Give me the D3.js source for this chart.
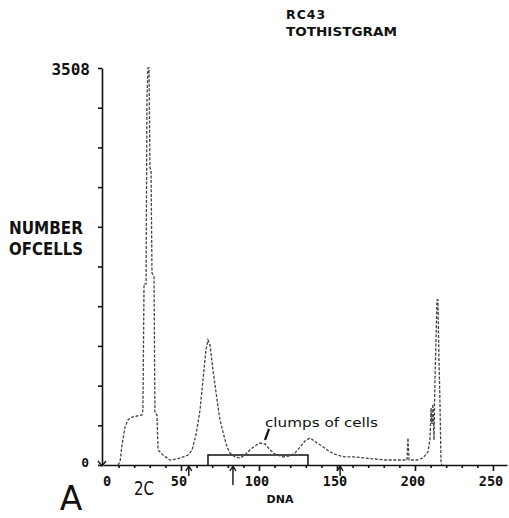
<!DOCTYPE html>
<html>
<head>
<meta charset="utf-8">
<style>
body { margin: 0; background: #fff; }
text { font-family: "DejaVu Sans", sans-serif; fill: #111; }
.mono { font-family: "DejaVu Sans Mono", monospace; font-weight: bold; }
</style>
</head>
<body>
<script src="https://cdn.jsdelivr.net/npm/d3@7"></script>
<script>
// histogram: DNA channel, number of cells
var dna = [9.6, 10.9, 12.2, 14.1, 16.0, 18.6, 21.8, 25.0, 25.6, 26.3, 27.6, 28.2, 28.8, 29.5, 30.1, 30.8,
  31.4, 32.7, 33.3, 34.6, 35.3, 38.5, 42.9, 47.4, 51.3, 54.5, 57.1, 59.6, 62.2, 64.1, 66.0, 67.3,
  68.6, 70.5, 73.1, 75.0, 76.9, 79.5, 81.4, 84.6, 87.8, 91.0, 94.2, 97.4, 100.6, 103.8, 107.1, 110.3,
  115.4, 119.9, 123.1, 126.3, 129.5, 132.7, 134.6, 137.2, 140.4, 145.5, 150.0, 155.1, 161.5, 167.9,
  174.4, 180.8, 187.2, 193.6, 194.9, 195.5, 196.2, 201.3, 205.1, 208.3, 209.6, 210.3, 210.9, 211.5,
  212.2, 212.8, 213.5, 214.1, 214.7, 215.4, 216.0, 216.7, 217.3];
var cells = [0, 27, 177, 336, 398, 424, 433, 442, 486, 1600, 1600, 3253, 3508, 3508, 2625, 2608,
  1697, 1662, 460, 442, 133, 88, 44, 53, 71, 88, 133, 265, 486, 751, 1017, 1105,
  1061, 840, 575, 398, 292, 159, 106, 71, 62, 88, 133, 168, 194, 186, 133, 97,
  71, 80, 106, 159, 212, 239, 221, 194, 168, 115, 88, 71, 71, 62,
  53, 44, 44, 44, 44, 239, 44, 44, 62, 115, 221, 504, 362, 539,
  221, 751, 1105, 1459, 1459, 928, 575, 18, 0];

var xTicks = [0, 50, 100, 150, 200, 250];
var yMax = 3508;
var gate = [67.3, 131.4];     // box drawn under the clumps
var gateCells = 88;
var arrowsAt = [55, 83.3, 152]; // small arrows under the axis

var W = 509, H = 518;
var svg = d3.select("body").append("svg").attr("width", W).attr("height", H);

var x = d3.scaleLinear().domain([0, 259]).range([103, 507]);
var y = d3.scaleLinear().domain([0, yMax]).range([465, 68]);

// title
svg.append("text").attr("x", 286).attr("y", 19).attr("font-size", 12.5).attr("letter-spacing", 1)
  .style("font-weight", "bold").text("RC43");
svg.append("text").attr("x", 286).attr("y", 36).attr("font-size", 12.5)
  .attr("textLength", 111).attr("lengthAdjust", "spacingAndGlyphs")
  .style("font-weight", "bold").text("TOTHISTGRAM");

// y axis
var yAxis = d3.axisLeft(y).tickValues(d3.range(0, 11).map(function(i){ return i * yMax / 10; }))
  .tickSize(4).tickSizeOuter(0).tickFormat("");
var gy = svg.append("g").attr("transform", "translate(102,0)").call(yAxis);
gy.selectAll("path, line").attr("stroke", "#111").attr("stroke-width", 1.6);
svg.append("text").attr("class", "mono").attr("x", 90).attr("y", y(yMax) + 7)
  .attr("text-anchor", "end").attr("font-size", 16).text("3508");
svg.append("text").attr("class", "mono").attr("x", 89).attr("y", y(0) + 2)
  .attr("text-anchor", "end").attr("font-size", 13).text("0");
// little arrow at the foot of the y axis
svg.append("path").attr("d", "M98," + (y(0) - 4) + "L102," + (y(0) + 1) + "L106," + (y(0) - 4))
  .attr("fill", "none").attr("stroke", "#111").attr("stroke-width", 1.4);

svg.append("text").attr("x", 9).attr("y", 234).attr("font-size", 18)
  .attr("textLength", 74).attr("lengthAdjust", "spacingAndGlyphs")
  .style("font-weight", "bold").text("NUMBER");
svg.append("text").attr("x", 9).attr("y", 255).attr("font-size", 18)
  .attr("textLength", 74).attr("lengthAdjust", "spacingAndGlyphs")
  .style("font-weight", "bold").text("OFCELLS");

// x axis: minor ticks every 10, long ticks every 50
var xAxis = d3.axisBottom(x).tickValues(d3.range(10, 251, 10)).tickSize(3).tickSizeOuter(0).tickFormat("");
var gx = svg.append("g").attr("transform", "translate(0," + y(0) + ")").call(xAxis);
gx.selectAll("path, line").attr("stroke", "#111").attr("stroke-width", 1.6);
gx.selectAll(".tick").filter(function(d){ return d % 50 === 0; }).select("line").attr("y2", 6);

svg.selectAll(".xlab").data(xTicks).enter().append("text")
  .attr("class", "mono xlab")
  .attr("x", function(d){ return d === 0 ? x(d) + 4 : x(d) - 2; })
  .attr("y", 486).attr("text-anchor", "middle").attr("font-size", 13.5)
  .text(function(d){ return d; });

svg.append("text").attr("x", 280).attr("y", 503).attr("text-anchor", "middle")
  .attr("font-size", 11).style("font-weight", "bold").text("DNA");
svg.append("text").attr("x", 144).attr("y", 495).attr("text-anchor", "middle")
  .attr("font-size", 19).attr("textLength", 20).attr("lengthAdjust", "spacingAndGlyphs").text("2C");
svg.append("text").attr("x", 71).attr("y", 510).attr("text-anchor", "middle")
  .attr("font-size", 33).text("A");

// arrows below the axis
svg.selectAll(".arr").data(arrowsAt).enter().append("path")
  .attr("class", "arr")
  .attr("d", function(d, i){
    var xx = x(d), y0 = y(0) + 1, len = i === 1 ? 19 : 10;
    return "M" + xx + "," + (y0 + len) + "V" + y0 + "M" + (xx - 3) + "," + (y0 + 5) + "L" + xx + "," + y0 + "L" + (xx + 3) + "," + (y0 + 5);
  })
  .attr("fill", "none").attr("stroke", "#111").attr("stroke-width", 1.4);

// gate box
svg.append("path")
  .attr("d", "M" + x(gate[0]) + "," + y(0) + "V" + y(gateCells) + "H" + x(gate[1]) + "V" + y(0))
  .attr("fill", "none").attr("stroke", "#111").attr("stroke-width", 1.5);

// histogram trace
var pts = dna.map(function(d, i){ return [d, cells[i]]; });
var line = d3.line().x(function(d){ return x(d[0]); }).y(function(d){ return y(d[1]); });
svg.append("path").datum(pts).attr("d", line)
  .attr("fill", "none").attr("stroke", "#444").attr("stroke-width", 1.3)
  .attr("stroke-dasharray", "3,1.6");

// clumps annotation
svg.append("text").attr("x", 265).attr("y", 427).attr("font-size", 12.5)
  .attr("textLength", 113).attr("lengthAdjust", "spacingAndGlyphs").text("clumps of cells");
svg.append("line").attr("x1", 269).attr("y1", 429).attr("x2", 265).attr("y2", 440)
  .attr("stroke", "#111").attr("stroke-width", 2.2);
</script>
</body>
</html>
